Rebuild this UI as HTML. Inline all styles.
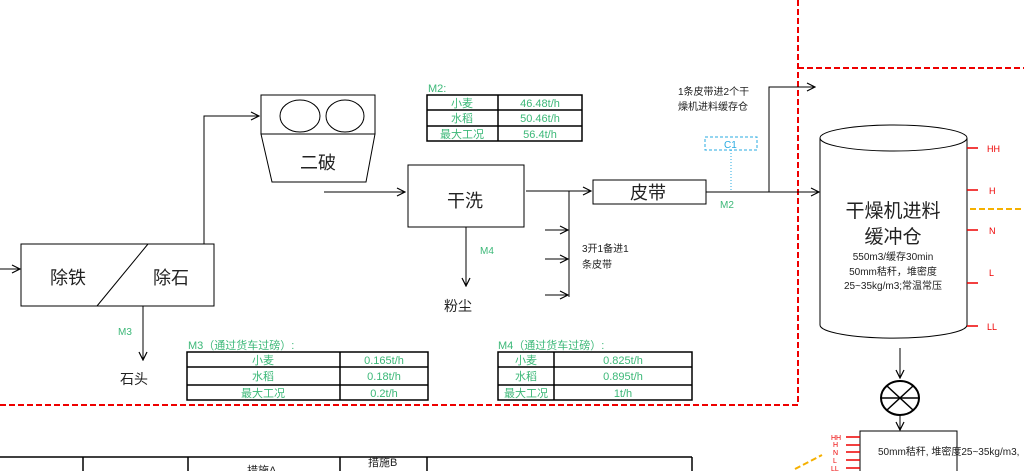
<!DOCTYPE html>
<html><head><meta charset="utf-8"><style>
body{margin:0;background:#fff;width:1024px;height:471px;overflow:hidden}
svg{display:block}
text{font-family:"Liberation Sans","Noto Sans CJK SC",sans-serif}
.g{fill:#3cb878}
.t{font-family:"Liberation Serif","Noto Serif CJK SC",serif;font-size:11px}
</style></head><body>
<svg width="1024" height="471" viewBox="0 0 1024 471">
<defs><marker id="a" markerWidth="10" markerHeight="10" refX="9" refY="5" orient="auto" markerUnits="userSpaceOnUse"><path d="M1,1 L9,5 L1,9" fill="none" stroke="#000" stroke-width="1.2"/></marker></defs>
<g stroke="#e00" stroke-width="2" stroke-dasharray="6,3" fill="none">
<line x1="798" y1="0" x2="798" y2="405"/>
<line x1="0" y1="405" x2="798" y2="405"/>
<line x1="798" y1="68" x2="1024" y2="68"/>
</g>
<g stroke="#f5b000" stroke-width="2" stroke-dasharray="6,3"><line x1="970" y1="209" x2="1024" y2="209"/><line x1="795" y1="469" x2="822" y2="455"/></g>
<g stroke="#000" stroke-width="1" fill="none">
<rect x="21" y="244" width="193" height="62"/><line x1="148" y1="244" x2="97" y2="306"/>
<line x1="0" y1="269" x2="20" y2="269" marker-end="url(#a)"/>
<polyline points="204,244 204,116 259,116" marker-end="url(#a)"/>
<line x1="143" y1="306" x2="143" y2="360" marker-end="url(#a)"/>
<rect x="261" y="95" width="114" height="39"/>
<ellipse cx="300" cy="116" rx="20" ry="16"/><ellipse cx="345" cy="116" rx="19" ry="16"/>
<polygon points="261,134 375,134 366,182 272,182"/>
<line x1="324" y1="192" x2="405" y2="192" marker-end="url(#a)"/>
<rect x="408" y="165" width="116" height="62"/>
<line x1="466" y1="227" x2="466" y2="286" marker-end="url(#a)"/>
<line x1="526" y1="191" x2="591" y2="191" marker-end="url(#a)"/>
<line x1="569" y1="191" x2="569" y2="297"/>
<line x1="545" y1="230" x2="568" y2="230" marker-end="url(#a)"/>
<line x1="545" y1="259" x2="568" y2="259" marker-end="url(#a)"/>
<line x1="545" y1="295" x2="568" y2="295" marker-end="url(#a)"/>
<rect x="593" y="180" width="113" height="24"/>
<line x1="706" y1="192" x2="819" y2="192" marker-end="url(#a)"/>
<polyline points="769,192 769,87 815,87" marker-end="url(#a)"/>
<path d="M820,138 L820,325 A73,13 0 0 0 967,325 L967,138"/>
<ellipse cx="893.5" cy="138" rx="73.5" ry="13"/>
<line x1="900" y1="348" x2="900" y2="378" marker-end="url(#a)"/>
<ellipse cx="900" cy="398" rx="19" ry="17" stroke-width="2"/>
<line x1="887" y1="386" x2="913" y2="410" stroke-width="1.5"/><line x1="913" y1="386" x2="887" y2="410" stroke-width="1.5"/><line x1="881" y1="398" x2="919" y2="398" stroke-width="1.5"/>
<line x1="900" y1="415" x2="900" y2="430" marker-end="url(#a)"/>
<rect x="860" y="431" width="97" height="50"/>
</g>
<rect x="705" y="137" width="52" height="13" fill="none" stroke="#29abe2" stroke-dasharray="3,2"/>
<line x1="731" y1="150" x2="731" y2="191" stroke="#29abe2" stroke-dasharray="1,2"/>
<text x="724" y="148" font-size="10" fill="#29abe2">C1</text>
<g stroke="#e00" stroke-width="1.5">
<line x1="967" y1="148" x2="978" y2="148"/><line x1="967" y1="190" x2="978" y2="190"/><line x1="967" y1="230" x2="978" y2="230"/><line x1="967" y1="283" x2="978" y2="283"/><line x1="967" y1="326" x2="978" y2="326"/>
<line x1="846" y1="437" x2="860" y2="437"/><line x1="846" y1="445" x2="860" y2="445"/><line x1="846" y1="452" x2="860" y2="452"/><line x1="846" y1="460" x2="860" y2="460"/><line x1="846" y1="468" x2="860" y2="468"/>
</g>
<g fill="#e00" font-size="9"><text x="987" y="152">HH</text><text x="989" y="194">H</text><text x="989" y="234">N</text><text x="989" y="276">L</text><text x="987" y="330">LL</text></g>
<g fill="#e00" font-size="7"><text x="831" y="440">HH</text><text x="833" y="447">H</text><text x="833" y="455">N</text><text x="833" y="463">L</text><text x="831" y="471">LL</text></g>
<g font-size="18" fill="#222">
<text x="50" y="284">除铁</text><text x="153" y="284">除石</text>
<text x="300" y="169">二破</text><text x="447" y="207">干洗</text><text x="630" y="199">皮带</text>
</g>
<g font-size="14" fill="#222"><text x="120" y="384">石头</text><text x="444" y="311">粉尘</text></g>
<g font-size="10" class="g"><text x="118" y="335" class="g">M3</text><text x="480" y="254" class="g">M4</text><text x="720" y="208" class="g">M2</text></g>
<g font-size="10" fill="#222"><text x="582" y="252">3开1备进1</text><text x="582" y="268">条皮带</text><text x="678" y="95">1条皮带进2个干</text><text x="678" y="110">燥机进料缓存仓</text></g>
<g text-anchor="middle" fill="#222"><text x="893" y="217" font-size="19">干燥机进料</text><text x="893" y="243" font-size="19">缓冲仓</text>
<text x="893" y="260" font-size="10">550m3/缓存30min</text><text x="893" y="275" font-size="10">50mm秸秆，堆密度</text><text x="893" y="289" font-size="10">25~35kg/m3;常温常压</text></g>
<text x="878" y="455" font-size="10" fill="#222">50mm秸秆, 堆密度25~35kg/m3,</text>
<!-- tables -->
<g stroke="#000" stroke-width="1.5" fill="none">
<rect x="427" y="95" width="155" height="46"/><line x1="427" y1="110" x2="582" y2="110"/><line x1="427" y1="126" x2="582" y2="126"/><line x1="498" y1="95" x2="498" y2="141"/>
<rect x="187" y="352" width="241" height="48"/><line x1="187" y1="367" x2="428" y2="367"/><line x1="187" y1="385" x2="428" y2="385"/><line x1="340" y1="352" x2="340" y2="400"/>
<rect x="498" y="352" width="194" height="48"/><line x1="498" y1="367" x2="692" y2="367"/><line x1="498" y1="385" x2="692" y2="385"/><line x1="554" y1="352" x2="554" y2="400"/>
<line x1="0" y1="457" x2="692" y2="457"/><line x1="83" y1="457" x2="83" y2="471"/><line x1="188" y1="457" x2="188" y2="471"/><line x1="340" y1="457" x2="340" y2="471"/><line x1="427" y1="457" x2="427" y2="471"/><line x1="692" y1="457" x2="692" y2="471"/>
</g>
<g class="t" text-anchor="middle">
<text x="462" y="107" class="g">小麦</text><text x="540" y="107" class="g">46.48t/h</text>
<text x="462" y="122" class="g">水稻</text><text x="540" y="122" class="g">50.46t/h</text>
<text x="462" y="138" class="g">最大工况</text><text x="540" y="138" class="g">56.4t/h</text>
<text x="263" y="364" class="g">小麦</text><text x="384" y="364" class="g">0.165t/h</text>
<text x="263" y="380" class="g">水稻</text><text x="384" y="380" class="g">0.18t/h</text>
<text x="263" y="397" class="g">最大工况</text><text x="384" y="397" class="g">0.2t/h</text>
<text x="526" y="364" class="g">小麦</text><text x="623" y="364" class="g">0.825t/h</text>
<text x="526" y="380" class="g">水稻</text><text x="623" y="380" class="g">0.895t/h</text>
<text x="526" y="397" class="g">最大工况</text><text x="623" y="397" class="g">1t/h</text>
</g>
<g class="t"><text x="428" y="92" class="g">M2:</text><text x="188" y="349" class="g">M3（通过货车过磅）:</text><text x="498" y="349" class="g">M4（通过货车过磅）:</text></g>
<g class="t" fill="#222"><text x="247" y="474">措施A</text><text x="368" y="466">措施B</text></g>
</svg>
</body></html>
